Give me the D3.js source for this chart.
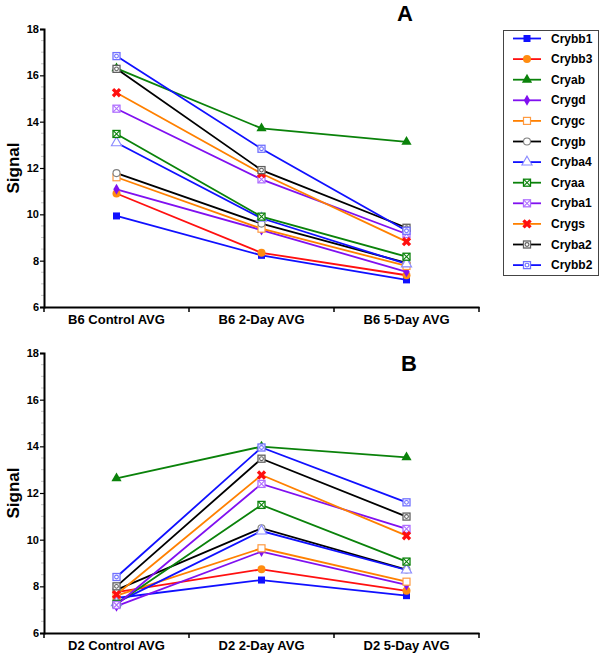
<!DOCTYPE html>
<html><head><meta charset="utf-8">
<script src="https://cdn.jsdelivr.net/npm/d3@7"></script>
<style>body{margin:0;background:#fff}svg{display:block;font-family:"Liberation Sans",Arial,sans-serif}</style>
</head><body><svg id="c" width="600" height="655"></svg>
<script>
const seriesNames = ["Crybb1","Crybb3","Cryab","Crygd","Crygc","Crygb","Cryba4","Cryaa","Cryba1","Crygs","Cryba2","Crybb2"];
const catsA = ["B6 Control AVG","B6 2-Day AVG","B6 5-Day AVG"];
const catsB = ["D2 Control AVG","D2 2-Day AVG","D2 5-Day AVG"];
const yTicks = [6,8,10,12,14,16,18];
// values per series: [control, 2-day, 5-day]
const valuesA = [
  [9.93, 8.23, 7.17],   // Crybb1
  [10.9, 8.34, 7.37],   // Crybb3
  [16.3, 13.71, 13.13], // Cryab
  [11.08, 9.32, 7.52],  // Crygd
  [11.6, 9.38, 7.77],   // Crygc
  [11.78, 9.6, 7.9],    // Crygb
  [13.09, 9.83, 7.86],  // Cryba4
  [13.47, 9.9, 8.17],   // Cryaa
  [14.56, 11.51, 9.15], // Cryba1
  [15.25, 11.76, 8.82], // Crygs
  [16.28, 11.91, 9.42], // Cryba2
  [16.83, 12.83, 9.29]  // Crybb2
];
const valuesB = [
  [7.5, 8.27, 7.6],     // Crybb1
  [7.75, 8.73, 7.81],   // Crybb3
  [12.63, 13.99, 13.53],// Cryab
  [7.15, 9.49, 8.06],   // Crygd
  [7.6, 9.63, 8.2],     // Crygc
  [7.85, 10.49, 8.72],  // Crygb
  [7.3, 10.37, 8.7],    // Cryba4
  [7.25, 11.49, 9.06],  // Cryaa
  [7.2, 12.39, 10.46],  // Cryba1
  [7.65, 12.77, 10.17], // Crygs
  [8.0, 13.47, 10.99],  // Cryba2
  [8.4, 13.95, 11.6]    // Crybb2
];
const lineColors = ["#1010ff","#ff1010","#0a820a","#8010f0","#ff8000","#000000","#1010ff","#0a820a","#8010f0","#ff8000","#000000","#1010ff"];
const markerTypes = ["sqFill","circFill","triFill","diaFill","sqOpen","circOpen","triOpen","sqX","sqX","cross","sqCirc","sqCirc"];
const markerColors = ["#1010ff","#ff8c10","#0a820a","#8010f0","#ff9a40","#808080","#8a8aff","#0a820a","#b070ff","#ff1010","#606060","#7070ff"];

const svg = d3.select("#c");

function drawMarker(g, type, col, x, y) {
  const s = 3.5;
  const m = g.append("g").attr("transform", `translate(${x},${y})`);
  if (type === "sqFill") m.append("rect").attr("x",-s).attr("y",-s).attr("width",2*s).attr("height",2*s).attr("fill",col);
  else if (type === "circFill") m.append("circle").attr("r",s+0.5).attr("fill",col);
  else if (type === "triFill") m.append("path").attr("d",d3.symbol(d3.symbolTriangle,45)()).attr("fill",col);
  else if (type === "diaFill") m.append("path").attr("d",d3.symbol(d3.symbolDiamond,35)()).attr("fill",col);
  else if (type === "sqOpen") m.append("rect").attr("x",-s).attr("y",-s).attr("width",2*s).attr("height",2*s).attr("fill","#fff").attr("stroke",col).attr("stroke-width",1.2);
  else if (type === "circOpen") m.append("circle").attr("r",s).attr("fill","#fff").attr("stroke",col).attr("stroke-width",1.1);
  else if (type === "triOpen") m.append("path").attr("d",d3.symbol(d3.symbolTriangle,45)()).attr("fill","#fff").attr("stroke",col).attr("stroke-width",1.1);
  else if (type === "sqX") {
    m.append("rect").attr("x",-s).attr("y",-s).attr("width",2*s).attr("height",2*s).attr("fill","#fff").attr("stroke",col).attr("stroke-width",1.3);
    m.append("path").attr("d",`M${-s},${-s}L${s},${s}M${s},${-s}L${-s},${s}`).attr("stroke",col).attr("stroke-width",1.1);
  } else if (type === "sqCirc") {
    m.append("rect").attr("x",-s).attr("y",-s).attr("width",2*s).attr("height",2*s).attr("fill","#fff").attr("stroke",col).attr("stroke-width",1.3);
    m.append("circle").attr("r",s-1.6).attr("fill","none").attr("stroke",col).attr("stroke-width",1.1);
  } else if (type === "cross") {
    m.append("path").attr("d",d3.symbol(d3.symbolCross,55)()).attr("transform","rotate(45)").attr("fill",col);
  }
}

function panel(cats, values, yTop, yBot, letter, lx, ly) {
  const x = d3.scaleBand().domain(cats).range([44,479]);
  const y = d3.scaleLinear().domain([6,18]).range([yBot,yTop]);
  const g = svg.append("g");
  // minor ticks
  const minor = d3.range(6.5,18,0.5).filter(v => v % 2 !== 0);
  g.selectAll(".mn").data(minor).join("line")
    .attr("x1",41).attr("x2",44).attr("y1",d=>y(d)).attr("y2",d=>y(d)).attr("stroke","#bbb").attr("stroke-width",0.8);
  // y axis
  const ya = d3.axisLeft(y).tickValues(yTicks).tickSize(4).tickPadding(1).tickFormat(d3.format("d"));
  const yg = g.append("g").attr("transform","translate(44,0)").call(ya);
  yg.select(".domain").attr("stroke","#000").attr("stroke-width",2);
  yg.selectAll(".tick line").attr("stroke","#000").attr("stroke-width",1.2);
  yg.selectAll("text").attr("font-size",11).attr("font-weight","bold").attr("fill","#000");
  // x axis
  const xa = d3.axisBottom(x).tickSize(0).tickPadding(8);
  const xg = g.append("g").attr("transform",`translate(0,${yBot})`).call(xa);
  xg.select(".domain").attr("stroke","#000").attr("stroke-width",2);
  xg.selectAll("text").attr("font-size",13).attr("font-weight","bold").attr("fill","#000");
  // band boundary ticks
  const bounds = [x.range()[0], ...cats.map(c => x(c)+x.bandwidth())];
  g.selectAll(".bt").data(bounds).join("line")
    .attr("x1",d=>d).attr("x2",d=>d).attr("y1",yBot).attr("y2",yBot+5).attr("stroke","#000").attr("stroke-width",1.5);
  // y label
  g.append("text").attr("transform",`translate(19,${(yTop+yBot)/2}) rotate(-90)`).attr("text-anchor","middle")
    .attr("font-size",17).attr("font-weight","bold").text("Signal");
  g.append("text").attr("x",lx).attr("y",ly).attr("text-anchor","middle").attr("font-size",22).attr("font-weight","bold").text(letter);
  const line = d3.line().x((d,i)=>x(cats[i])+x.bandwidth()/2).y(d=>y(d));
  values.forEach((vals, si) => {
    g.append("path").attr("d",line(vals)).attr("fill","none").attr("stroke",lineColors[si]).attr("stroke-width",1.8);
  });
  values.forEach((vals, si) => {
    vals.forEach((v,i) => drawMarker(g, markerTypes[si], markerColors[si], x(cats[i])+x.bandwidth()/2, y(v)));
  });
}

panel(catsA, valuesA, 29, 307, "A", 405, 21);
panel(catsB, valuesB, 353, 633, "B", 409, 371);

// legend
const lg = svg.append("g");
lg.append("rect").attr("x",503.5).attr("y",30.5).attr("width",95).attr("height",245).attr("fill","#fff").attr("stroke","#444").attr("stroke-width",1);
seriesNames.forEach((n,i) => {
  const yy = 38.5 + i*20.6;
  lg.append("line").attr("x1",513).attr("x2",541).attr("y1",yy).attr("y2",yy).attr("stroke",lineColors[i]).attr("stroke-width",1.8);
  drawMarker(lg, markerTypes[i], markerColors[i], 527, yy);
  lg.append("text").attr("x",551).attr("y",yy+4).attr("font-size",12).attr("font-weight","bold").text(n);
});
</script></body></html>
